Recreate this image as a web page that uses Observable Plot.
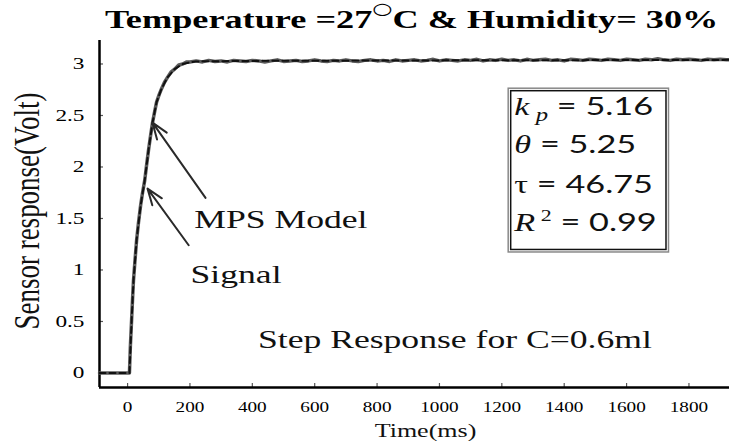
<!DOCTYPE html>
<html>
<head>
<meta charset="utf-8">
<script src="https://cdn.jsdelivr.net/npm/d3@7"></script>
<script src="https://cdn.jsdelivr.net/npm/@observablehq/plot@0.6"></script>
<style>
html,body{margin:0;padding:0;background:#fff;}
#wrap{width:729px;height:443px;overflow:hidden;position:relative;background:#fff;}
#title{position:relative;height:36px;width:729px;font-family:"Liberation Serif",serif;color:#000;}
#title .t{position:absolute;left:105px;top:7px;font-size:25px;line-height:25px;font-weight:bold;white-space:nowrap;transform:scaleX(1.45);transform-origin:0 0;}
#title .deg{font-size:16px;font-weight:normal;position:relative;top:-14px;font-family:"DejaVu Sans",sans-serif;}
#chart svg{display:block;}
#chart text{font-family:"Liberation Serif",serif;}
</style>
</head>
<body>
<div id="wrap">
<div id="title"></div>
<div id="chart"></div>
</div>
<script>
// ---- texts ----
const titlePre = "Temperature =27";
const titleDeg = "○";
const titlePost = "C & Humidity= 30%";
const xLabel = "Time(ms)";
const yLabel = "Sensor response(Volt)";

// ---- axes ----
const xDomain = [-90, 1930];
const yDomain = [-0.141, 3.228];
const xTicks = [0, 200, 400, 600, 800, 1000, 1200, 1400, 1600, 1800];
const yTicks = [0, 0.5, 1, 1.5, 2, 2.5, 3];

// ---- measured signal (ms, Volt) ----
const signalT = [-90, 0, 6, 9, 13, 16, 19, 24, 29, 35, 42, 48, 55, 61, 67, 74, 80, 87, 93, 101, 109, 118, 128, 139, 151, 164, 177, 190,
  200, 220, 240, 260, 280, 300, 320, 340, 360, 380, 400, 420, 440, 460, 480, 500, 520, 540, 560, 580,
  600, 620, 640, 660, 680, 700, 720, 740, 760, 780, 800, 820, 840, 860, 880, 900, 920, 940, 960, 980,
  1000, 1020, 1040, 1060, 1080, 1100, 1120, 1140, 1160, 1180, 1200, 1220, 1240, 1260, 1280, 1300, 1320, 1340, 1360, 1380,
  1400, 1420, 1440, 1460, 1480, 1500, 1520, 1540, 1560, 1580, 1600, 1620, 1640, 1660, 1680, 1700, 1720, 1740, 1760, 1780,
  1800, 1820, 1840, 1860, 1880, 1900, 1920, 1930];
const signalV = [0, 0, 0, 0.26, 0.52, 0.72, 0.9, 1.1, 1.29, 1.46, 1.63, 1.75, 1.87, 2.02, 2.16, 2.31, 2.43, 2.54, 2.63, 2.70, 2.76, 2.82, 2.87, 2.92, 2.95, 2.99, 3.00, 3.02,
  3.02, 3.03, 3.02, 3.035, 3.025, 3.03, 3.02, 3.035, 3.03, 3.025, 3.035, 3.03, 3.02, 3.03, 3.04, 3.025, 3.03, 3.035, 3.025, 3.03,
  3.04, 3.03, 3.025, 3.035, 3.03, 3.04, 3.03, 3.025, 3.035, 3.04, 3.03, 3.035, 3.025, 3.04, 3.03, 3.035, 3.04, 3.03, 3.035, 3.045,
  3.03, 3.04, 3.035, 3.03, 3.04, 3.035, 3.045, 3.03, 3.04, 3.035, 3.045, 3.035, 3.04, 3.03, 3.045, 3.035, 3.04, 3.045, 3.035, 3.04,
  3.03, 3.045, 3.04, 3.035, 3.045, 3.04, 3.035, 3.045, 3.04, 3.035, 3.045, 3.04, 3.035, 3.045, 3.04, 3.05, 3.04, 3.035, 3.045, 3.04,
  3.045, 3.04, 3.035, 3.045, 3.04, 3.045, 3.04, 3.04];

// ---- MPS model (ms, Volt) ----
const modelT = [-90, 6, 13, 19, 29, 42, 55, 67, 80, 93, 109, 128, 151, 177, 218, 400, 1000, 1930];
const modelV = [0, 0, 0.51, 0.90, 1.29, 1.63, 1.87, 2.16, 2.43, 2.63, 2.76, 2.87, 2.95, 3.00, 3.025, 3.03, 3.035, 3.04];

// ---- annotations ----
const annotLabel = ["MPS Model", "Signal", "Step Response for C=0.6ml"];
const annotT = [214, 202, 418];
const annotV = [1.49, 0.956, 0.325];

const arrowFromT = [250, 196];
const arrowFromV = [1.70, 1.24];
const arrowToT = [80, 64];
const arrowToV = [2.43, 1.79];

// ---- parameter box ----
const paramSymbol = ["k", "θ", "τ", "R"];
const paramIndex = ["p", "", "", "2"];
const paramValue = ["5.16", "5.25", "46.75", "0.99"];
const paramT = 1240;
const paramV = [2.578, 2.218, 1.830, 1.461];
const boxT = [1222, 1736];
const boxV = [1.17, 2.76];

document.getElementById("title").innerHTML =
  `<span class="t">${titlePre}<span class="deg">${titleDeg}</span>${titlePost}</span>`;

const FF = "Liberation Serif";
const signal = signalT.map((t, i) => ({t, v: signalV[i]}));
const model = modelT.map((t, i) => ({t, v: modelV[i]}));
const annots = annotLabel.map((label, i) => ({label, t: annotT[i], v: annotV[i]}));
const arrows = arrowFromT.map((x1, i) => ({x1, y1: arrowFromV[i], x2: arrowToT[i], y2: arrowToV[i]}));
const params = paramSymbol.map((s, i) => ({s, idx: paramIndex[i], val: paramValue[i], t: paramT, v: paramV[i],
  plain: s + paramIndex[i] + " = " + paramValue[i]}));
const box = [{x1: boxT[0], x2: boxT[1], y1: boxV[0], y2: boxV[1]}];

const chart = Plot.plot({
  width: 729, height: 407,
  marginLeft: 99, marginRight: 0, marginTop: 4, marginBottom: 56,
  style: {fontFamily: "'Liberation Serif', serif", background: "white", color: "black", overflow: "visible"},
  x: {domain: xDomain},
  y: {domain: yDomain},
  marks: [
    Plot.axisX({ticks: xTicks, tickSize: 0, tickPadding: 15, fontSize: 14, fontFamily: FF, tickFormat: d => String(d), label: null}),
    Plot.axisY({ticks: yTicks, tickSize: 0, tickPadding: 15, fontSize: 17, fontFamily: FF, tickFormat: d => String(d), label: null}),
    Plot.tickX(xTicks, {x: d => d, insetTop: 343, stroke: "#555", strokeWidth: 1.2}),
    Plot.tickY(yTicks, {y: d => d, insetRight: 626, stroke: "#555", strokeWidth: 1.2}),
    Plot.ruleX([xDomain[0]], {stroke: "#000", strokeWidth: 2.5}),
    Plot.ruleY([yDomain[0]], {stroke: "#000", strokeWidth: 2.5}),
    Plot.line(signal, {x: "t", y: "v", stroke: "#5a5a5a", strokeWidth: 3.5, strokeLinejoin: "round"}),
    Plot.line(model, {x: "t", y: "v", stroke: "#111", strokeWidth: 2, strokeDasharray: "6,4"}),
    Plot.arrow(arrows, {x1: "x1", y1: "y1", x2: "x2", y2: "y2", stroke: "#2a2a2a", strokeWidth: 2, headLength: 13, headAngle: 40}),
    Plot.rect(box, {x1: "x1", x2: "x2", y1: "y1", y2: "y2", fill: "none", stroke: "#888", strokeWidth: 1.5}),
    Plot.rect(box, {x1: "x1", x2: "x2", y1: "y1", y2: "y2", fill: "none", stroke: "#111", strokeWidth: 1.5, inset: 2.5}),
    Plot.text(params, {x: "t", y: "v", text: "plain", textAnchor: "start", lineAnchor: "middle", fontSize: 25, fontFamily: FF, fill: "#111"}),
    Plot.text(annots, {x: "t", y: "v", text: "label", textAnchor: "start", lineAnchor: "middle", fontSize: 26, fontFamily: FF, fill: "#111"}),
    Plot.text([yLabel], {frameAnchor: "left", textAnchor: "middle", lineAnchor: "middle", dx: -72, dy: -3, rotate: -90, fontSize: 27, fontFamily: FF, fill: "#111"}),
    Plot.text([xLabel], {frameAnchor: "bottom", textAnchor: "middle", lineAnchor: "middle", dx: 11, dy: 43, fontSize: 19, fontFamily: FF, fill: "#111"})
  ]
});

const svg = chart.tagName.toLowerCase() === "svg" ? chart : chart.querySelector("svg");
const NS = "http://www.w3.org/2000/svg";

// rich text for parameter box
const plainMap = new Map(params.map(p => [p.plain, p]));
svg.querySelectorAll("text").forEach(t => {
  const p = plainMap.get(t.textContent);
  if (!p) return;
  while (t.firstChild) t.removeChild(t.firstChild);
  const add = (str, attrs) => {
    const ts = document.createElementNS(NS, "tspan");
    ts.textContent = str;
    for (const k in attrs) ts.setAttribute(k, attrs[k]);
    t.appendChild(ts);
  };
  add(p.s, {"font-style": p.s === "τ" ? "normal" : "italic"});
  if (p.idx === "p") {
    add(" " + p.idx, {"font-style": "italic", "font-size": "18px", dy: "6"});
    add(" = " + p.val, {dy: "-6", "font-family": "Lato"});
  } else if (p.idx === "2") {
    add(" " + p.idx, {"font-size": "16px", dy: "-10"});
    add(" = " + p.val, {dy: "10", "font-family": "Lato"});
  } else {
    add(" = " + p.val, {"font-family": "Lato"});
  }
});

// horizontal stretch of all lettering, as in the reference
const S = 1.37;
svg.querySelectorAll("text").forEach(t => {
  const tr = t.getAttribute("transform") || "";
  if (/rotate/.test(tr)) { t.setAttribute("transform", tr + " scale(1,1.3)"); return; }
  const x = parseFloat(t.getAttribute("x")) || 0;
  t.setAttribute("transform", `${tr} translate(${x},0) scale(${S},1) translate(${-x},0)`);
});

document.getElementById("chart").appendChild(chart);
</script>
</body>
</html>
